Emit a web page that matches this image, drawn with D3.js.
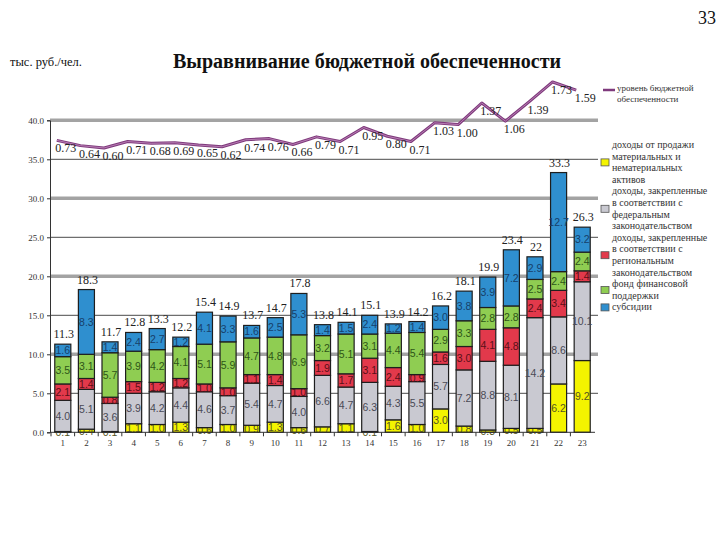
<!DOCTYPE html>
<html><head><meta charset="utf-8">
<script src="https://cdn.jsdelivr.net/npm/d3@7/dist/d3.min.js"></script>
<style>body{margin:0;background:#fff}svg{display:block}</style>
</head><body>
<svg id="c" width="720" height="540"></svg>
<script>
// ---------- data ----------
const categories = ["1","2","3","4","5","6","7","8","9","10","11","12","13","14","15","16","17","18","19","20","21","22","23"];
const assets    = [0.1,0.4,0.1,1.1,1.0,1.3,0.6,1.0,0.9,1.3,0.6,0.7,1.1,0.1,1.6,1.0,3.0,0.8,0.3,0.5,0.5,6.2,9.2];
const federal   = [4.0,5.1,3.6,3.9,4.2,4.4,4.6,3.7,5.4,4.7,4.0,6.6,4.7,6.3,4.3,5.5,5.7,7.2,8.8,8.1,14.2,8.6,10.1];
const regional  = [2.1,1.4,0.8,1.5,1.2,1.2,1.0,1.0,1.1,1.4,1.0,1.9,1.7,3.1,2.4,0.9,1.6,3.0,4.1,4.8,2.4,3.4,1.4];
const fund      = [3.5,3.1,5.7,3.9,4.2,4.1,5.1,5.9,4.7,4.8,6.9,3.2,5.1,3.1,4.4,5.4,2.9,3.3,2.8,2.8,2.5,2.4,2.4];
const subsidies = [1.6,8.3,1.4,2.4,2.7,1.2,4.1,3.3,1.6,2.5,5.3,1.4,1.5,2.4,1.2,1.4,3.0,3.8,3.9,7.2,2.9,12.7,3.2];
const totals    = ["11.3","18.3","11.7","12.8","13.3","12.2","15.4","14.9","13.7","14.7","17.8","13.8","14.1","15.1","13.9","14.2","16.2","18.1","19.9","23.4","22","33.3","26.3"];
const level     = [0.73,0.64,0.60,0.71,0.68,0.69,0.65,0.62,0.74,0.76,0.66,0.79,0.71,0.95,0.80,0.71,1.03,1.00,1.37,1.06,1.39,1.73,1.59];
const yTickValues = [0,5,10,15,20,25,30,35,40];
const seriesKeys = ["assets","federal","regional","fund","subsidies"];
const seriesNames = [
  ["доходы от продажи","материальных и","нематериальных","активов"],
  ["доходы, закрепленные","в соответствии с","федеральным","законодательством"],
  ["доходы, закрепленные","в соответствии с","региональным","законодательством"],
  ["фонд финансовой","поддержки"],
  ["субсидии"]
];
const lineName = ["уровень бюджетной","обеспеченности"];
const title = "Выравнивание бюджетной обеспеченности";
const unitLabel = "тыс. руб./чел.";
const pageNumber = "33";

// ---------- styles ----------
const fill = {assets:"#f4f400", federal:"#c9c9d1", regional:"#e2394b", fund:"#8fcd52", subsidies:"#2f8fcf"};
const ink  = {assets:"#555522", federal:"#4a4a55", regional:"#5a1018", fund:"#2e5518", subsidies:"#17406a"};

const table = categories.map((c,i)=>({cat:c, assets:assets[i], federal:federal[i], regional:regional[i], fund:fund[i], subsidies:subsidies[i]}));

const svg = d3.select("#c");
svg.append("rect").attr("width",720).attr("height",540).attr("fill","#fff");

const x = d3.scaleBand().domain(categories).range([51,594]).paddingInner(0.32).paddingOuter(0.16);
const y = d3.scaleLinear().domain([0,40]).range([432.3,120.3]);
const y2 = d3.scaleLinear().domain([0,2]).range([183,66.2]);

// gridlines
const g = svg.append("g");
yTickValues.filter(v=>v>0).forEach(v=>{
  const major = v % 10 === 0;
  g.append("line").attr("x1",50).attr("x2",598).attr("y1",y(v)).attr("y2",y(v))
    .attr("stroke", major ? "#a3a3a3" : "#4a4a4a").attr("stroke-width", major ? 3.5 : 1);
});

// y axis
const yAxis = svg.append("g").attr("transform","translate(50,0)")
  .call(d3.axisLeft(y).tickValues(yTickValues).tickFormat(d3.format(".1f")).tickSize(3).tickPadding(3));
yAxis.select(".domain").attr("stroke","#333");
yAxis.selectAll(".tick line").attr("stroke","#333");
yAxis.selectAll("text").attr("font-family","Liberation Serif").attr("font-size",9).attr("fill","#333");

// stacked bars
const stacked = d3.stack().keys(seriesKeys)(table);
const layers = svg.append("g").selectAll("g").data(stacked).join("g");
layers.selectAll("rect").data(d=>d.map(p=>({p, key:d.key}))).join("rect")
  .attr("x", d=>x(d.p.data.cat))
  .attr("width", x.bandwidth())
  .attr("y", d=>y(d.p[1]))
  .attr("height", d=>y(d.p[0])-y(d.p[1]))
  .attr("fill", d=>fill[d.key])
  .attr("stroke","#1e1e1e").attr("stroke-width",1.2);

// segment labels
layers.selectAll("text").data(d=>d.map(p=>({p, key:d.key}))).join("text")
  .attr("x", d=>x(d.p.data.cat)+x.bandwidth()/2)
  .attr("y", d=>(y(d.p[0])+y(d.p[1]))/2+3.8)
  .attr("text-anchor","middle")
  .attr("font-family","Liberation Sans").attr("font-size",10.5)
  .attr("fill", d=>ink[d.key])
  .text(d=>d3.format(".1f")(d.p[1]-d.p[0]));

// x axis
svg.append("line").attr("x1",50).attr("x2",595).attr("y1",y(0)).attr("y2",y(0)).attr("stroke","#333").attr("stroke-width",1);
const xAxis = svg.append("g").attr("transform",`translate(0,${y(0)})`)
  .call(d3.axisBottom(x).tickSize(0).tickPadding(7));
xAxis.select(".domain").remove();
xAxis.selectAll("text").attr("font-family","Liberation Serif").attr("font-size",9).attr("fill","#333");
categories.forEach((c,i)=>{
  const bx = x(c) - x.step()*x.paddingInner()/2;
  svg.append("line").attr("x1",bx).attr("x2",bx).attr("y1",y(0)).attr("y2",y(0)+4).attr("stroke","#333");
});

// totals
svg.append("g").selectAll("text").data(table).join("text")
  .attr("x", (d)=>x(d.cat)+x.bandwidth()/2+1)
  .attr("y", (d,i)=>y(d3.sum(seriesKeys,k=>d[k]))-6)
  .attr("text-anchor","middle")
  .attr("font-family","Liberation Serif").attr("font-size",12).attr("fill","#222")
  .text((d,i)=>totals[i]);

// level line
const lx = (c)=>x(c)+x.bandwidth()/2-6;
const lineGen = d3.line().x((d,i)=>lx(categories[i])).y(d=>y2(d));
svg.append("path").datum(level).attr("d",lineGen).attr("fill","none")
  .attr("stroke","#7f3a7c").attr("stroke-width",3).attr("stroke-linejoin","round");
svg.append("path").datum(level).attr("d",lineGen).attr("fill","none")
  .attr("stroke","#c58ec2").attr("stroke-width",0.8).attr("stroke-linejoin","round");
svg.append("g").selectAll("text").data(level).join("text")
  .attr("x",(d,i)=>lx(categories[i])+9)
  .attr("y",d=>y2(d)+12)
  .attr("text-anchor","middle")
  .attr("font-family","Liberation Serif").attr("font-size",12).attr("fill","#222")
  .text(d=>d3.format(".2f")(d));

// legend: line
svg.append("line").attr("x1",603).attr("x2",615).attr("y1",90).attr("y2",90).attr("stroke","#7f3a7c").attr("stroke-width",2.5);
lineName.forEach((t,i)=>svg.append("text").attr("x",617).attr("y",91+i*11)
  .attr("font-family","Liberation Serif").attr("font-size",9).attr("fill","#333").text(t));

// legend: bars
let lineIdx = 0;
const ly0 = 148, lstep = 11.6;
seriesKeys.forEach((k,si)=>{
  const lines = seriesNames[si];
  const first = lineIdx;
  lines.forEach(t=>{
    svg.append("text").attr("x",612).attr("y",ly0+lineIdx*lstep)
      .attr("font-family","Liberation Serif").attr("font-size",10).attr("fill","#333").text(t);
    lineIdx++;
  });
  const cy = ly0 + (first + (lines.length-1)/2)*lstep - 3;
  svg.append("rect").attr("x",601).attr("y",cy-3.5).attr("width",8).attr("height",7)
    .attr("fill",fill[k]).attr("stroke","#555").attr("stroke-width",0.8);
});

// titles
svg.append("text").attr("x",367).attr("y",68).attr("text-anchor","middle")
  .attr("font-family","Liberation Serif").attr("font-weight","bold").attr("font-size",20).attr("fill","#111").text(title);
svg.append("text").attr("x",10).attr("y",66)
  .attr("font-family","Liberation Serif").attr("font-size",12.5).attr("fill","#111").text(unitLabel);
svg.append("text").attr("x",716).attr("y",24).attr("text-anchor","end")
  .attr("font-family","Liberation Serif").attr("font-size",18).attr("fill","#111").text(pageNumber);
</script>
</body></html>
